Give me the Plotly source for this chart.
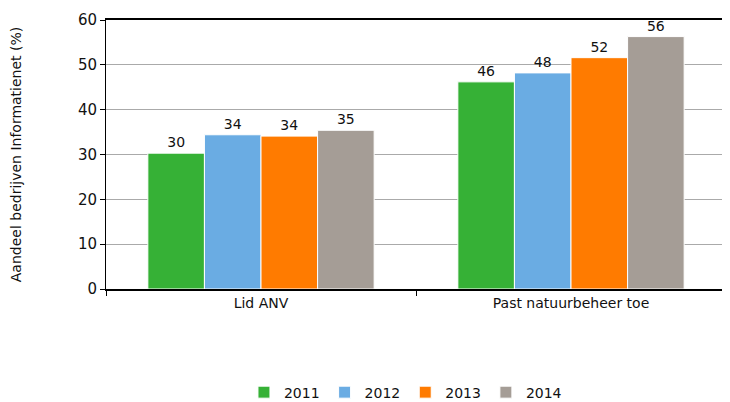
import plotly.graph_objects as go

categories = ["Lid ANV", "Past natuurbeheer toe"]
years = ["2011", "2012", "2013", "2014"]
values = {
    "2011": [30.3, 46.2],
    "2012": [34.4, 48.2],
    "2013": [34.1, 51.6],
    "2014": [35.4, 56.3],
}
colors = {"2011": "#36b136", "2012": "#6aace3", "2013": "#ff7b00", "2014": "#a59d96"}

fig = go.Figure()
for y in years:
    fig.add_trace(go.Bar(
        name=y, x=categories, y=values[y],
        marker=dict(color=colors[y], line=dict(color="white", width=1)),
        texttemplate="%{y:.0f}", textposition="outside", cliponaxis=False,
        textfont=dict(size=14, color="#111"),
    ))

font = "DejaVu Sans, Verdana, sans-serif"
fig.update_layout(
    width=722, height=410,
    margin=dict(l=98, r=3, t=10, b=129),
    paper_bgcolor="white", plot_bgcolor="white",
    barmode="group", bargap=0.27, bargroupgap=0,
    font=dict(family=font, size=14, color="#111"),
    legend=dict(orientation="h", x=0.483, xanchor="center", y=-0.385, yanchor="middle",
                font=dict(size=14), itemwidth=30, traceorder="normal"),
    xaxis=dict(showline=True, linecolor="black", linewidth=1.5, mirror=True,
               ticks="outside", tickson="boundaries", ticklen=5, tickcolor="black",
               tickfont=dict(size=14)),
    yaxis=dict(range=[0, 60], dtick=10, showline=True, linecolor="black", linewidth=1,
               mirror=True, ticks="outside", ticklen=5, tickcolor="black",
               showgrid=True, gridcolor="#aaaaaa", gridwidth=1,
               title=dict(text="Aandeel bedrijven Informatienet (%)", font=dict(size=14), standoff=53),
               tickfont=dict(size=15)),
)
fig.write_html("out.html")
